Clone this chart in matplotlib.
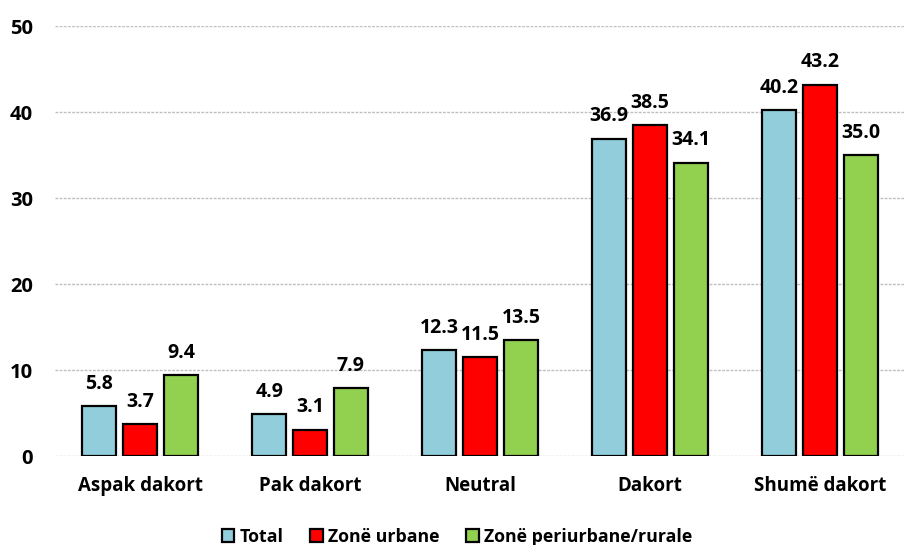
import numpy as np
import matplotlib.pyplot as plt

# data
categories = ['Aspak dakort', 'Pak dakort', 'Neutral', 'Dakort', 'Shumë dakort']
series_names = ['Total', 'Zonë urbane', 'Zonë periurbane/rurale']
total = [5.8, 4.9, 12.3, 36.9, 40.2]
urban = [3.7, 3.1, 11.5, 38.5, 43.2]
rural = [9.4, 7.9, 13.5, 34.1, 35.0]
colors = ['#92CDDC', '#FF0000', '#92D050']

plt.rcParams['font.family'] = ['Open Sans', 'DejaVu Sans']
plt.rcParams['font.weight'] = 'bold'

fig = plt.figure(figsize=(9.05, 5.45), dpi=100)
ax = fig.add_axes([0.061, 0.163, 0.939, 0.789])

x = np.arange(len(categories))
w = 0.2
step = 0.24
for i, (vals, name, col) in enumerate(zip([total, urban, rural], series_names, colors)):
    pos = x + (i - 1) * step
    ax.bar(pos, vals, width=w, color=col, edgecolor='black', linewidth=1.6,
           label=name, zorder=3)
    for xp, v in zip(pos, vals):
        ax.annotate(f'{v:.1f}', (xp, v), xytext=(0, 9), textcoords='offset points',
                    ha='center', va='bottom', fontsize=14, fontweight='bold')

ax.set_xlim(-0.5, len(categories) - 0.5)
ax.set_ylim(0, 50)
ax.set_yticks(range(0, 51, 10))
ax.set_xticks(x)
ax.set_xticklabels(categories, fontsize=13.5, fontweight='bold')
ax.tick_params(axis='y', labelsize=14.5, length=0, pad=16)
ax.tick_params(axis='x', length=0, pad=14)
for s in ax.spines.values():
    s.set_visible(False)
ax.yaxis.grid(True, color='#BFBFBF', linestyle=(0, (2, 1)), linewidth=1, zorder=0)
ax.set_axisbelow(True)

leg = ax.legend(loc='lower center', bbox_to_anchor=(0.473, -0.245), ncol=3, frameon=False,
                fontsize=12.8, handlelength=0.7, handleheight=0.7, handletextpad=0.3,
                columnspacing=1.5)
for h in leg.legend_handles:
    h.set_linewidth(1.6)

fig.savefig('out.png', dpi=100)
